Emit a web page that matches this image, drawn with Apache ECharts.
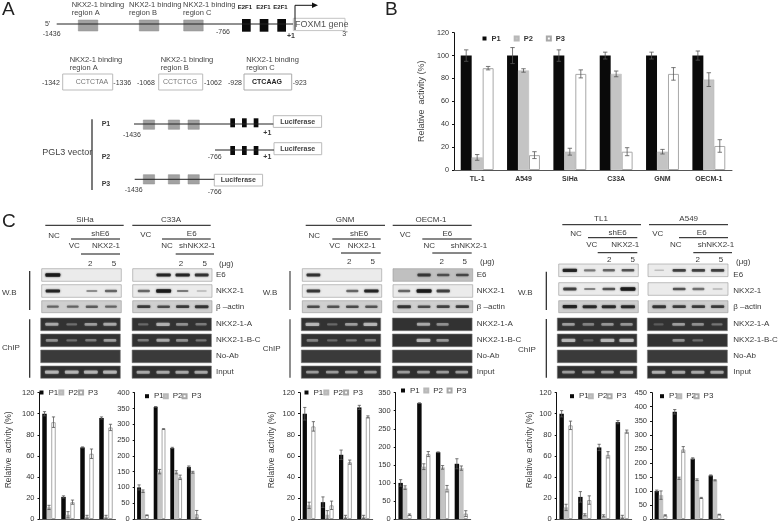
<!DOCTYPE html>
<html><head><meta charset="utf-8">
<style>html,body{margin:0;padding:0;background:#fff}#c{width:781px;height:523px;filter:blur(0.45px)}</style>
<script src="https://cdn.jsdelivr.net/npm/echarts@6/dist/echarts.min.js"></script>
</head><body><div id="c"></div>
<script>
// ---------- DATA ----------
const seriesNames = ['P1','P2','P3'];
const cellLines = ['TL-1','A549','SiHa','C33A','GNM','OECM-1'];
const lanes4 = ['1','2','3','4'];

const bP1 = [100,100,100,100,100,100], bP1e = [5,7,5,3,3,4];
const bP2 = [11,87,16,84,16,79],       bP2e = [2.5,1.5,3,2.5,2,6];
const bP3 = [89,13,84,16,84,21],       bP3e = [1.5,3,3.5,3.5,5.5,5.5];

const sihaP1 = [100,21,68,96],   sihaP1e = [2,1,0.5,1];
const sihaP2 = [11,4,2,2],       sihaP2e = [2,3,1.5,1.5];
const sihaP3 = [92,16,62,87],    sihaP3e = [5,2,4.5,3];

const c33aP1 = [100,355,225,165], c33aP1e = [8,1,2,3];
const c33aP2 = [88,150,148,148],  c33aP2e = [4,7,5,3];
const c33aP3 = [12,285,132,15],   c33aP3e = [1,1,7,12];

const gnmP1 = [100,16,61,106],   gnmP1e = [6,5,4.5,2];
const gnmP2 = [13,4,2,2],        gnmP2e = [3,4,1.5,1.5];
const gnmP3 = [88,13,54,97],     gnmP3e = [4.5,4,2,1];

const oecmP1 = [100,321,185,153], oecmP1e = [9,1,1,14];
const oecmP2 = [87,145,143,141],  oecmP2e = [5,8,5,6];
const oecmP3 = [12,180,84,15],    oecmP3e = [2,7,9,8];

const tl1P1 = [100,21,68,92],    tl1P1e = [3,5,3,1.5];
const tl1P2 = [11,4,3,2],        tl1P2e = [3,1,1,1.5];
const tl1P3 = [89,18,61,83],     tl1P3e = [4,4,3,1.5];

const a549P1 = [100,382,215,155], a549P1e = [3,8,3,2];
const a549P2 = [85,145,140,138],  a549P2e = [15,4,3,2];
const a549P3 = [13,248,75,16],    a549P3e = [2,10,2,1];

// blot band intensities per lane: E6, NKX2-1, actin, ChIP A, ChIP B-C, No-Ab, Input
const blotSiHa = [[1,0,0,0],[.9,0,.3,.5],[.45,.45,.5,.45],[.7,.25,.6,.7],[.5,.25,.35,.6],[0,0,0,0],[.8,.8,.8,.8]];
const blotC33A = [[0,.9,.9,.8],[.5,1,.4,.1],[.7,.6,.7,.75],[.2,.75,.5,.35],[.35,.7,.5,.3],[0,0,0,0],[.7,.7,.7,.7]];
const blotGNM  = [[.8,0,0,0],[.75,0,.5,.9],[.6,.55,.6,.55],[.8,.2,.6,.8],[.4,.2,.3,.35],[0,0,0,0],[.6,.6,.6,.6]];
const blotOECM = [[0,.7,.55,.6],[.5,1,.7,0],[.75,.6,.65,.7],[0,.7,.5,0],[0,.8,.55,0],[0,0,0,0],[.6,.6,.6,.6]];
const blotTL1  = [[.9,.4,.5,.6],[.7,.35,.6,1],[.9,.85,.85,.85],[.6,.4,.55,.55],[.8,.15,.8,.9],[0,0,0,0],[.6,.6,.6,.7]];
const blotA549 = [[.05,.7,.7,.7],[0,.6,.45,.1],[.75,.7,.7,.7],[.1,.6,.5,.3],[0,.5,.25,0],[0,0,0,0],[.75,.7,.7,.7]];

// ---------- LAYOUT & HELPERS ----------
const FF = '"Liberation Sans",Arial,sans-serif';
const g = [];
function T(s,x,y,o){o=o||{};
  g.push({type:'text',silent:true,z:10,style:{text:s,x:x,y:y,fill:o.c||'#3a3a3a',fontSize:o.s||8,fontFamily:FF,fontWeight:o.w||'normal',
    align:o.a||'left',verticalAlign:'middle',textAlign:o.a||'left',textVerticalAlign:'middle'}});
}
function L(x1,y1,x2,y2,c,w){g.push({type:'line',silent:true,z:6,shape:{x1,y1,x2,y2},style:{stroke:c||'#111',lineWidth:w||1}});}
function R(x,y,w,h,f,st,lw,z){g.push({type:'rect',silent:true,z:z||5,shape:{x,y,width:w,height:h},style:{fill:f,stroke:st||null,lineWidth:lw||0}});}

// Panel letters
T('A',2,10,{s:19,c:'#222'}); T('B',385,10,{s:19,c:'#222'}); T('C',2,222,{s:19,c:'#222'});

// ----- Panel A gene diagram
const grayC='#a2a2a2';
L(56.7,24,293,24,'#222',1);
[78.3,139.3,183.7].forEach(x=>R(x,20,19.5,11,grayC,'#8c8c8c',.5));
[242,259.7,277.3].forEach(x=>R(x,19,8.7,12.7,'#0a0a0a'));
R(293.3,18.3,51.7,12.3,'#fff','#c4c4c4',1);
T('FOXM1 gene',295,24.6,{s:9,c:'#555'});
g.push({type:'polyline',silent:true,z:7,shape:{points:[[295,30],[295,5.3],[313,5.3]]},style:{stroke:'#111',lineWidth:1,fill:null}});
g.push({type:'polygon',silent:true,z:7,shape:{points:[[312,2.6],[318,5.3],[312,8]]},style:{fill:'#111'}});
[['A',71.7],['B',129],['C',183]].forEach(([n,x])=>{T('NKX2-1 binding',x,4.5,{s:7.5,c:'#444'});T('region '+n,x,12.7,{s:7.5,c:'#444'});});
[237.7,256.3,273.3].forEach(x=>T('E2F1',x,7.5,{s:6,w:'bold',c:'#222'}));
T('5\'',45,24,{s:7});T('-1436',42.7,34.3,{s:7});T('-766',216,31.7,{s:7});T('+1',287,36.3,{s:7,w:'bold'});T('3\'',342.3,34.3,{s:7});

[['A',69.7],['B',160.7],['C',246.3]].forEach(([n,x])=>{T('NKX2-1 binding',x,59.5,{s:7.5,c:'#444'});T('region '+n,x,68,{s:7.5,c:'#444'});});
R(62.7,74,50,16,'#fff','#bbb',1);R(158.7,74,44,16,'#fff','#bbb',1);R(244,74,47.7,16,'#fff','#aaa',1);
T('CCTCTAA',92,82,{s:7,a:'center',c:'#777'});T('CCTCTCG',180,82,{s:7,a:'center',c:'#777'});T('CTCAAG',267,82,{s:7,a:'center',w:'bold',c:'#222'});
[['-1342',42],['-1336',113.3],['-1068',137],['-1062',204],['-928',228],['-923',292.7]].forEach(([s,x])=>T(s,x,82.7,{s:7}));

// Constructs
L(92,119.3,92,190,'#222',1.2);
T('PGL3 vector',42.3,152.7,{s:9,c:'#444'});
T('P1',101.7,124.3,{s:7,w:'bold'});T('P2',101.7,156.7,{s:7,w:'bold'});T('P3',101.7,184.3,{s:7,w:'bold'});
const gx=[143.3,168.3,188], kx=[230.3,242,253.7];
L(134,124,273.3,124,'#222',1);gx.forEach(x=>R(x,120,11.3,9.3,grayC,'#8c8c8c',.5));kx.forEach(x=>R(x,118.3,4.7,9,'#0a0a0a'));
R(273.3,115.7,48.3,11.7,'#fff','#bbb',1);T('Luciferase',297.7,121.7,{s:7,w:'bold',a:'center',c:'#444'});
T('-1436',123,135,{s:7});T('+1',263.3,133.3,{s:7,w:'bold'});
L(215,150,274,150,'#222',1);kx.forEach(x=>R(x,146,4.7,9,'#0a0a0a'));
R(274,142.7,47.7,12,'#fff','#bbb',1);T('Luciferase',297.7,148.7,{s:7,w:'bold',a:'center',c:'#444'});
T('-766',207.7,157.3,{s:7});T('+1',263.3,157,{s:7,w:'bold'});
L(134.7,179.3,214.3,179.3,'#222',1);gx.forEach(x=>R(x,174.7,11.3,9.3,grayC,'#8c8c8c',.5));
R(214.3,174.3,48.3,11.7,'#fff','#bbb',1);T('Luciferase',238.3,180.2,{s:7,w:'bold',a:'center',c:'#444'});
T('-1436',124.7,190,{s:7});T('-766',207.7,191.7,{s:7});

// ----- Panel C blots
const rowY=[268.7,284.7,300.7,318,334,350,366];
const rowH=[12.6,12.6,12,12.7,12.7,12.7,12.3];
const rowNames=['E6','NKX2-1','β –actin','NKX2-1-A','NKX2-1-B-C','No-Ab','Input'];
const rowTextY=[275,291,307,324,340,355.7,372];
function blot(x,w,mat,o){o=o||{};
  const ys=o.rowY||rowY, hs=o.rowH||rowH;
  const centers=[.14,.39,.63,.87];
  mat.forEach((row,r)=>{
    const dark=r>=3;
    const xx=dark?x-(o.chipShift||1):x;
    const bg=dark?(r===5?'#3a3a3a':r===6?'#2f2f2f':'#323232'):(r===2?'#cfcfcf':(o.bg&&o.bg[r])||'#ebebeb');
    R(xx,ys[r],w,hs[r],bg,dark?'#777':'#999',.6,5);
    row.forEach((v,i)=>{ if(v<=0) return;
      const cx=xx+centers[i]*w, bw=w*0.17*(.7+.4*v), bh=dark?2+v*1.4:1.4+v*2;
      const col=dark?'rgba(225,225,225,'+(.15+.6*v)+')':'rgba(20,20,20,'+(.15+.75*v)+')';
      g.push({type:'rect',silent:true,z:6,shape:{x:cx-bw/2,y:ys[r]+hs[r]/2-bh/2,width:bw,height:bh,r:1},style:{fill:col,shadowBlur:2,shadowColor:col}});
    });
  });
}
function labels(x,ys){rowNames.forEach((n,i)=>T(n,x,(ys||rowTextY)[i],{s:8}));}

// SiHa / C33A
T('SiHa',85,220,{a:'center'});L(45.3,225.3,123.7,225.3);T('C33A',171,220,{a:'center'});L(132.3,225.3,210.7,225.3);
T('NC',54,235.7,{a:'center'});T('shE6',100.3,234,{a:'center'});L(71,239,120,239);T('VC',74.3,246,{a:'center'});T('NKX2-1',106,246,{a:'center'});L(81,254,120,254);
T('2',90.3,264,{a:'center'});T('5',114,264,{a:'center'});
T('VC',145.7,234.7,{a:'center'});T('E6',191.7,234,{a:'center'});L(162,239,210.7,239);T('NC',167,246,{a:'center'});T('shNKX2-1',197.3,246,{a:'center'});L(175.7,254,214,254);
T('2',181,264,{a:'center'});T('5',204.7,264,{a:'center'});T('(μg)',219,263.7);
blot(41.7,79.6,blotSiHa);blot(132.7,79.3,blotC33A,{chipShift:.6});labels(216);
T('W.B',2,292.7);L(29.7,271,29.7,310,'#222',1.2);T('ChIP',2,348);L(29.7,319.3,29.7,377.7,'#222',1.2);

// GNM / OECM-1
T('GNM',345,220,{a:'center'});L(305.7,225.3,385,225.3);T('OECM-1',431,220,{a:'center'});L(392.7,225.3,471.7,225.3);
T('NC',314.3,235.7,{a:'center'});T('shE6',359,234,{a:'center'});L(332.3,239,380.7,239);T('VC',334.7,246,{a:'center'});T('NKX2-1',361.7,245.5,{a:'center'});L(341,253,380.7,253);
T('2',349.3,262,{a:'center'});T('5',372.7,262,{a:'center'});
T('VC',405.3,234.7,{a:'center'});T('E6',447.3,234,{a:'center'});L(422.3,239,471.7,239);T('NC',429.3,246,{a:'center'});T('shNKX2-1',469,246,{a:'center'});L(432.3,253,471.7,253);
T('2',441.7,262,{a:'center'});T('5',464.7,262,{a:'center'});T('(μg)',480,262);
blot(302.3,79.4,blotGNM);blot(393,79.7,blotOECM,{bg:{0:'#c0c0c0'},chipShift:.6});labels(476.7);
T('W.B',262.7,292.7);L(290,271,290,310,'#444',1.2);T('ChIP',262.7,348.3);L(290,319.3,290,377.7,'#444',1.2);

// TL1 / A549
T('TL1',601,218.7,{a:'center'});L(562.3,224.7,641,224.7);T('A549',688.7,218.7,{a:'center'});L(649,224.7,728,224.7);
T('NC',576,233.7,{a:'center'});T('shE6',617.7,233,{a:'center'});L(588,237.7,637.3,237.7);T('VC',591.7,245,{a:'center'});T('NKX2-1',625.3,245,{a:'center'});L(597.7,252.7,637.3,252.7);
T('2',609.3,259.3,{a:'center'});T('5',632.7,259.3,{a:'center'});
T('VC',657.7,233.7,{a:'center'});T('E6',701.7,233,{a:'center'});L(679,237.7,728,237.7);T('NC',675.7,245,{a:'center'});T('shNKX2-1',716,245,{a:'center'});L(693.3,252.7,732,252.7);
T('2',697.7,259.3,{a:'center'});T('5',721,259.3,{a:'center'});T('(μg)',736,262);
const ry3=[264,282.7,300.7,318,334,350,366];
blot(558.7,79.6,blotTL1,{rowY:ry3,chipShift:1.4});blot(648,80,blotA549,{rowY:ry3,chipShift:.6});labels(733.3);
T('W.B',518,292.7);L(546.3,271.7,546.3,310,'#222',1.2);T('ChIP',518,350);L(546.3,319,546.3,377.7,'#222',1.2);

// ----- Bar charts
const gapFrac=0.29;
const charts=[
 {p:[bP1,bP2,bP3],e:[bP1e,bP2e,bP3e],cats:cellLines,g:[454,32.7,278,137.3],max:120,int:20,big:true,gap:28,leg:[482.5,39,13]},
 {p:[sihaP1,sihaP2,sihaP3],e:[sihaP1e,sihaP2e,sihaP3e],cats:lanes4,g:[39.5,392.7,76,126.6],max:120,int:20,gap:26,leg:[39.5,393,0]},
 {p:[c33aP1,c33aP2,c33aP3],e:[c33aP1e,c33aP2e,c33aP3e],cats:lanes4,g:[134.7,392.7,66.4,126.6],max:400,int:50,leg:[145,396.7,-1]},
 {p:[gnmP1,gnmP2,gnmP3],e:[gnmP1e,gnmP2e,gnmP3e],cats:lanes4,g:[300,392.7,72.7,126.6],max:120,int:20,gap:24,leg:[304.5,393,0]},
 {p:[oecmP1,oecmP2,oecmP3],e:[oecmP1e,oecmP2e,oecmP3e],cats:lanes4,g:[395.7,392.7,75,126.6],max:350,int:50,leg:[401,391,3.5]},
 {p:[tl1P1,tl1P2,tl1P3],e:[tl1P1e,tl1P2e,tl1P3e],cats:lanes4,g:[556.7,392.7,75,126.6],max:120,int:20,gap:23,leg:[570,396.7,-1]},
 {p:[a549P1,a549P2,a549P3],e:[a549P1e,a549P2e,a549P3e],cats:lanes4,g:[652,392.7,72,126.6],max:450,int:50,leg:[660,396.7,-2.5]}
];
const barStyles=[
 {color:'#0a0a0a'},
 {color:'#c4c4c4',borderColor:'#b8b8b8',borderWidth:.5},
 {color:'#fff',borderColor:'#a8a8a8',borderWidth:1}
];
const grid=[],xAxis=[],yAxis=[],series=[],legend=[];
charts.forEach((c,i)=>{
  grid.push({left:c.g[0],top:c.g[1],width:c.g[2],height:c.g[3],containLabel:false});
  xAxis.push({type:'category',gridIndex:i,data:c.cats,axisTick:{show:false},
    axisLine:{lineStyle:{color:'#555',width:1}},
    axisLabel:c.big?{show:true,fontSize:7,fontWeight:'bold',color:'#333',fontFamily:FF,margin:6,interval:0}:{show:false}});
  yAxis.push({type:'value',gridIndex:i,min:0,max:c.max,interval:c.int,splitLine:{show:false},
    axisLine:{show:true,lineStyle:{color:'#111',width:1}},
    axisTick:{show:true,length:2,inside:false,lineStyle:{color:'#111'}},
    axisLabel:{fontSize:c.big?7.2:7.5,color:'#333',fontFamily:FF,margin:5},
    name:c.gap?'Relative  activity (%)':'',nameLocation:'middle',nameGap:c.gap||0,nameRotate:90,
    nameTextStyle:{fontSize:c.big?9:8.5,color:'#444',fontFamily:FF,padding:c.big?0:[0,0,0,12]}});
  seriesNames.forEach((n,k)=>{
    series.push({type:'bar',name:n,xAxisIndex:i,yAxisIndex:i,data:c.p[k],barGap:0,barCategoryGap:(gapFrac*100)+'%',
      itemStyle:barStyles[k],silent:true,animation:false,z:2});
  });
  const ed=[];
  c.p.forEach((arr,k)=>arr.forEach((v,j)=>ed.push([j,v,c.e[k][j],k])));
  const cap=c.big?2.2:1.6;
  series.push({type:'custom',name:'err'+i,xAxisIndex:i,yAxisIndex:i,data:ed,encode:{x:0,y:1},silent:true,animation:false,z:5,clip:false,
    renderItem:function(p,api){
      const cw=api.size([1,0])[0], bw=cw*(1-gapFrac)/3, k=api.value(3);
      const top=api.coord([api.value(0),api.value(1)+api.value(2)]);
      const bot=api.coord([api.value(0),Math.max(0,api.value(1)-api.value(2))]);
      const x=top[0]+(k-1)*bw;
      const st={stroke:'#555',lineWidth:.8,fill:null};
      return {type:'group',children:[
        {type:'line',shape:{x1:x,y1:top[1],x2:x,y2:bot[1]},style:st},
        {type:'line',shape:{x1:x-cap,y1:top[1],x2:x+cap,y2:top[1]},style:st},
        {type:'line',shape:{x1:x-cap,y1:bot[1],x2:x+cap,y2:bot[1]},style:st}
      ]};
    }});
  legend.push({left:c.leg[0],top:c.leg[1]-4.5,data:seriesNames,icon:'rect',itemWidth:4,itemHeight:4,itemGap:c.leg[2],selectedMode:false,padding:0,
    textStyle:{fontSize:c.big?7.5:8,color:'#333',fontFamily:FF,fontWeight:c.big?'bold':'normal'}});
});

const chart=echarts.init(document.getElementById('c'),null,{renderer:'canvas'});
chart.setOption({backgroundColor:'#fff',animation:false,grid,xAxis,yAxis,series,legend,graphic:{elements:g}});
</script></body></html>
